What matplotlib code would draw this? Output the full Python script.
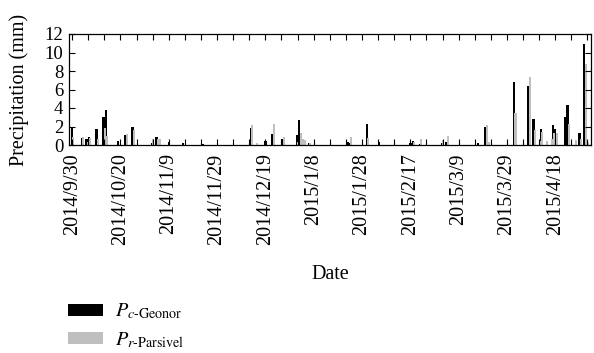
import numpy as np
import matplotlib
matplotlib.use("Agg")
import matplotlib.pyplot as plt
import matplotlib.dates as mdates

plt.rcParams["font.family"] = ["Liberation Serif", "DejaVu Serif"]
plt.rcParams["mathtext.fontset"] = "stix"

# daily precipitation (mm), only days with a reading shown
dates = ["2014-09-30", "2014-10-04", "2014-10-06", "2014-10-07", "2014-10-10",
         "2014-10-13", "2014-10-14", "2014-10-19", "2014-10-22", "2014-10-25",
         "2014-11-02", "2014-11-04", "2014-11-05", "2014-11-09", "2014-11-15",
         "2014-11-23", "2014-12-13", "2014-12-15", "2014-12-19", "2014-12-22",
         "2014-12-26", "2015-01-01", "2015-01-02", "2015-01-03", "2015-01-04",
         "2015-01-06", "2015-01-22", "2015-01-23", "2015-01-30", "2015-02-04",
         "2015-02-17", "2015-02-18", "2015-02-21", "2015-03-02", "2015-03-04",
         "2015-03-17", "2015-03-20", "2015-03-21", "2015-04-01", "2015-04-07",
         "2015-04-09", "2015-04-11", "2015-04-12", "2015-04-14", "2015-04-16",
         "2015-04-17", "2015-04-18", "2015-04-22", "2015-04-23", "2015-04-26",
         "2015-04-28", "2015-04-30", "2015-05-01"]
pc_geonor = [1.9, 0.8, 0.7, 0.9, 1.75,
             3.0, 3.8, 0.4, 1.1, 2.0,
             0.2, 0.9, 0.0, 0.3, 0.2,
             0.1, 1.8, 0.0, 0.4, 1.2,
             0.7, 1.1, 2.65, 0.0, 0.0,
             0.2, 0.3, 0.2, 2.3, 0.3,
             0.2, 0.4, 0.1, 0.2, 0.3,
             0.2, 2.0, 0.0, 6.8, 6.4,
             2.8, 0.0, 1.7, 0.0, 0.0,
             2.2, 1.7, 3.05, 4.3, 0.0,
             1.35, 10.9, 0.0]
pr_parsivel = [0.9, 0.9, 0.3, 0.8, 0.7,
               1.8, 1.0, 0.0, 1.2, 1.6,
               0.7, 0.7, 0.6, 0.0, 0.0,
               0.0, 2.2, 0.2, 0.0, 2.3,
               0.9, 0.3, 1.3, 0.7, 0.5,
               0.2, 0.0, 0.9, 0.8, 0.0,
               0.0, 0.3, 0.7, 0.5, 1.0,
               0.0, 2.2, 0.3, 3.5, 7.3,
               1.6, 0.4, 1.4, 0.4, 0.7,
               1.3, 1.3, 0.0, 2.25, 0.5,
               0.7, 8.8, 0.3]

tick_start = "2014-09-30"
tick_step = 20  # days between date labels

x = np.array(dates, dtype="datetime64[D]").astype("datetime64[ms]").astype(object)
x = mdates.date2num(x)

fig = plt.figure(figsize=(5.94, 3.53), dpi=100)
ax = fig.add_axes([69 / 594, 1 - 145 / 353, 522 / 594, 111 / 353])

ax.bar(x, pc_geonor, width=1.0, color="black", label=r"$P_{c\text{-Geonor}}$")
ax.bar(x + 0.55, pr_parsivel, width=0.85, color="#bfbfbf", label=r"$P_{r\text{-Parsivel}}$")

t0 = mdates.datestr2num(tick_start)
major = t0 + np.arange(0, 11) * tick_step
minor = t0 + np.arange(-1, 33) * tick_step / 3
ax.set_xticks(major)
labels = []
for m in major:
    d = mdates.num2date(m)
    labels.append(f"{d.year}/{d.month}/{d.day}")
ax.set_xticklabels(labels, rotation=90, fontsize=14.5)
ax.set_xticks(minor, minor=True)
ax.set_xlim(t0 - 1.3, t0 + 214.8)

ax.set_ylim(0, 12)
ax.set_yticks(np.arange(0, 13, 2))
ax.tick_params(axis="y", labelsize=13.5, pad=4)
ax.tick_params(which="both", direction="in", top=True, right=True, length=4, width=0.8)
ax.tick_params(axis="x", which="major", pad=6)
for s in ax.spines.values():
    s.set_linewidth(0.9)

ax.set_ylabel("Precipitation (mm)", fontsize=14.5, labelpad=11)
ax.set_xlabel("Date", fontsize=14.5, labelpad=14)

fig.legend(loc="upper left", bbox_to_anchor=(68 / 594, 1 - 302 / 353),
           frameon=False, fontsize=14.5, borderpad=0, borderaxespad=0,
           handlelength=1.75, handleheight=0.55, handletextpad=0.6,
           labelspacing=0.45)

fig.savefig("out.png", dpi=100)
